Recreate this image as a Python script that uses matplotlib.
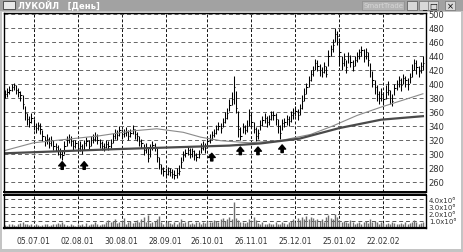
import numpy as np
import matplotlib
matplotlib.use('Agg')
import matplotlib.pyplot as plt
from matplotlib.patches import Rectangle

# ЛУКОЙЛ, дневные бары (индекс торгового дня)
closes = [385, 388, 392, 396, 398, 392, 388, 384, 372, 358,
          350, 345, 352, 340, 337, 342, 335, 326, 318, 322,
          315, 320, 312, 310, 305, 300, 298, 312, 320, 322,
          318, 312, 315, 308, 312, 306, 315, 318, 312, 320,
          322, 326, 320, 315, 312, 310, 314, 311, 316, 325,
          330, 327, 334, 328, 330, 332, 326, 330, 335, 328,
          325, 318, 315, 305, 310, 294, 308, 313, 310, 296,
          286, 278, 275, 272, 276, 274, 272, 270, 273, 276,
          288, 298, 302, 306, 300, 304, 298, 295, 300, 309,
          312, 308, 318, 322, 327, 330, 335, 340, 337, 345,
          352, 358, 370, 378, 395, 365, 335, 326, 338, 334,
          340, 356, 346, 336, 326, 330, 342, 348, 352, 345,
          350, 355, 356, 350, 340, 330, 344, 346, 350, 347,
          355, 358, 362, 355, 365, 375, 386, 395, 405, 414,
          420, 430, 426, 420, 417, 425, 414, 440, 450, 456,
          472, 468, 445, 430, 436, 424, 440, 432, 426, 434,
          440, 445, 448, 440, 446, 434, 420, 405, 396, 386,
          380, 385, 378, 388, 392, 380, 376, 394, 400, 405,
          398, 408, 405, 400, 410, 420, 430, 424, 418, 425,
          430]

highs = [392, 394, 397, 400, 402, 398, 394, 390, 384, 368,
         358, 354, 358, 350, 344, 346, 344, 334, 326, 328,
         324, 326, 320, 316, 313, 308, 304, 318, 326, 328,
         325, 320, 320, 316, 318, 314, 320, 324, 320, 326,
         328, 332, 328, 322, 318, 316, 320, 318, 322, 330,
         336, 334, 340, 336, 336, 338, 334, 336, 341, 336,
         332, 326, 322, 314, 316, 308, 314, 318, 316, 308,
         296, 286, 282, 280, 282, 280, 279, 277, 280, 284,
         296, 304, 307, 311, 308, 309, 305, 302, 306, 315,
         318, 316, 324, 328, 333, 336, 342, 346, 344, 352,
         360, 366, 378, 388, 412, 390, 362, 338, 344, 342,
         348, 364, 360, 346, 338, 336, 348, 354, 358, 354,
         356, 362, 362, 358, 350, 342, 350, 352, 356, 354,
         362, 366, 368, 364, 372, 384, 394, 402, 412, 420,
         426, 436, 434, 428, 424, 432, 426, 448, 456, 464,
         480, 476, 466, 440, 444, 434, 446, 442, 434, 440,
         446, 450, 454, 450, 452, 446, 430, 418, 406, 398,
         390, 394, 388, 398, 404, 392, 386, 400, 406, 412,
         408, 414, 412, 408, 416, 428, 436, 434, 426, 432,
         440]

lows = [380, 382, 386, 390, 392, 386, 382, 376, 364, 348,
        342, 338, 344, 334, 330, 334, 328, 318, 312, 314,
        308, 312, 306, 304, 298, 294, 292, 300, 312, 316,
        312, 306, 308, 302, 304, 300, 306, 312, 306, 312,
        316, 318, 314, 308, 306, 304, 308, 306, 308, 316,
        322, 320, 326, 322, 324, 326, 320, 324, 328, 322,
        318, 312, 308, 298, 302, 289, 296, 306, 304, 288,
        278, 272, 268, 266, 270, 268, 266, 264, 266, 270,
        280, 290, 296, 298, 294, 296, 292, 290, 294, 302,
        306, 302, 310, 316, 320, 324, 328, 334, 330, 338,
        344, 350, 362, 370, 372, 358, 324, 320, 330, 328,
        332, 340, 338, 330, 318, 322, 334, 340, 344, 338,
        342, 348, 348, 342, 330, 322, 334, 338, 342, 340,
        346, 350, 354, 348, 356, 364, 376, 386, 396, 404,
        412, 420, 418, 412, 410, 416, 410, 426, 440, 446,
        460, 456, 426, 420, 426, 416, 430, 424, 418, 426,
        432, 436, 440, 432, 436, 426, 410, 396, 386, 376,
        372, 376, 370, 378, 384, 372, 368, 384, 392, 396,
        390, 400, 396, 392, 402, 410, 420, 414, 410, 416,
        420]

# объём, млн
volumes = [0.4, 0.3, 0.5, 0.6, 0.4, 0.3, 0.5, 0.7, 0.9, 0.6,
           0.5, 0.4, 0.6, 0.3, 0.5, 0.4, 0.3, 0.4, 0.6, 0.5,
           0.3, 0.4, 0.5, 0.6, 0.7, 0.5, 0.9, 0.6, 0.4, 0.3,
           0.5, 0.4, 0.3, 0.6, 0.4, 0.5, 0.3, 0.7, 0.4, 0.5,
           0.6, 0.8, 0.5, 0.4, 0.6, 0.5, 0.9, 1.1, 0.8, 1.0,
           1.2, 0.7, 0.9, 1.0, 1.4, 0.6, 0.8, 1.0, 0.7, 0.9,
           1.1, 0.8, 1.3, 1.6, 0.9, 1.8, 0.7, 0.8, 1.0, 1.2,
           1.7, 0.9, 0.6, 0.8, 1.0, 0.7, 0.5, 0.9, 0.6, 0.8,
           1.3, 0.7, 0.8, 1.0, 0.6, 0.7, 0.5, 0.8, 0.9, 0.6,
           0.8, 0.7, 1.0, 0.9, 0.8, 1.1, 1.0, 0.9, 1.2, 1.4,
           1.0, 1.3, 1.6, 1.2, 3.6, 1.4, 1.1, 0.8, 0.9, 0.7,
           0.8, 1.2, 1.0, 1.5, 1.1, 0.7, 0.6, 0.8, 0.5, 0.6,
           0.7, 0.5, 0.6, 0.8, 0.6, 0.5, 0.9, 0.7, 0.6, 0.8,
           1.0, 1.2, 0.9, 1.4, 1.1, 1.5, 1.3, 1.7, 1.2, 1.6,
           1.4, 1.1, 1.3, 1.0, 1.2, 0.9, 1.5, 1.8, 1.4, 1.2,
           2.0, 1.6, 1.1, 0.9, 1.0, 0.8, 0.7, 1.1, 0.8, 0.6,
           0.7, 0.9, 0.6, 0.8, 1.0, 0.7, 1.2, 0.9, 1.0, 0.8,
           0.6, 0.8, 0.7, 0.5, 0.7, 0.6, 0.8, 0.7, 0.5, 0.6,
           0.7, 0.5, 0.8, 0.6, 0.7, 0.9, 1.1, 0.8, 0.6, 0.7,
           0.8]

# скользящие средние (узлы по индексу дня)
ma_fast_idx = [0, 13, 28, 43, 58, 69, 81, 89, 98, 111, 125, 139, 149, 160, 171, 190]
ma_fast_val = [305, 316, 321, 326, 333, 336, 331, 324, 319, 316, 319, 328, 340, 355, 367, 386]
ma_slow_idx = [0, 51, 102, 116, 134, 152, 171, 190]
ma_slow_val = [301, 307, 312, 315, 322, 337, 349, 354]

# стрелки-сигналы
arrow_idx = [26, 36, 94, 107, 115, 126]
arrow_price = [289, 289, 301, 310, 310, 313]

date_idx = [13, 33, 53, 73, 92, 112, 132, 152, 172]
date_labels = ['05.07.01', '02.08.01', '30.08.01', '28.09.01', '26.10.01',
               '26.11.01', '25.12.01', '25.01.02', '22.02.02']
price_ticks = list(range(260, 501, 20))
vol_ticks = [1, 2, 3, 4]
vol_labels = ['1.0x10⁶', '2.0x10⁶', '3.0x10⁶', '4.0x10⁶']

W, H = 463, 253
fig = plt.figure(figsize=(W / 100, H / 100), dpi=100)
fig.patch.set_facecolor('#c4c4c4')


def px_rect(x, y, w, h, z=5, **kw):
    r = Rectangle((x / W, 1 - (y + h) / H), w / W, h / H, transform=fig.transFigure,
                  zorder=z, **kw)
    fig.add_artist(r)
    return r


def px_text(x, y, s, **kw):
    fig.text(x / W, 1 - y / H, s, zorder=6, **kw)


# окно
px_rect(2, 13, 459, 237, z=-10, facecolor='white', edgecolor='none')
px_rect(4, 193, 422, 3, z=-5, facecolor='#8a8a8a', edgecolor='none')
px_rect(0, 0, W, 12, facecolor='#a2a2a2', edgecolor='none')
px_rect(3, 2, 12, 8, facecolor='#e8e8e8', edgecolor='#404040', lw=0.6)
px_text(18, 6.5, 'ЛУКОЙЛ   [День]', color='white', fontsize=6, fontweight='bold', va='center')
px_rect(362, 2, 42, 9, facecolor='#b4b4b4', edgecolor='#8c8c8c', lw=0.5)
px_text(383, 6.5, 'SmartTrade', color='#d6d6d6', fontsize=5, ha='center', va='center')
px_rect(407, 2, 10, 9, facecolor='#d8d8d8', edgecolor='#505050', lw=0.5)
for bx, glyph in [(419, '_'), (428, '□'), (445, '×')]:
    px_rect(bx, 2, 10, 9, facecolor='#d8d8d8', edgecolor='#707070', lw=0.5)
    px_text(bx + 5, 6.5, glyph, color='black', fontsize=6, ha='center', va='center')

x = np.arange(len(closes))

# ценовая панель
ax = fig.add_axes([4 / W, 1 - 193 / H, 422 / W, 179 / H])
ax.set_facecolor('white')
ax.vlines(x, lows, highs, color='black', lw=0.75)
ax.hlines(closes, x, x + 0.6, color='black', lw=0.75)
ax.plot(ma_fast_idx, ma_fast_val, color='#8a8a8a', lw=0.8)
ax.plot(ma_slow_idx, ma_slow_val, color='#4a4a4a', lw=1.6)
for i, p in zip(arrow_idx, arrow_price):
    ax.annotate('', xy=(i, p), xytext=(0, -5.5), textcoords='offset points',
                arrowprops=dict(facecolor='black', edgecolor='black', width=1.6,
                                headwidth=5, headlength=3))
ax.set_xlim(-0.45, 191.4)
ax.set_ylim(245.7, 501.4)
ax.set_yticks(price_ticks)
ax.yaxis.tick_right()
ax.tick_params(axis='y', length=0, pad=2, labelsize=6, labelcolor='#333333')
ax.set_xticks(date_idx)
ax.tick_params(axis='x', length=0, labelbottom=False)
ax.grid(axis='y', color='#666666', lw=0.7, linestyle=(0, (4, 3)))
ax.grid(axis='x', color='#111111', lw=0.7, linestyle=(0, (3, 2)))
for s in ax.spines.values():
    s.set_linewidth(1.0)
ax.spines['bottom'].set_linewidth(1.4)

# объём
axv = fig.add_axes([4 / W, 1 - 229 / H, 422 / W, 33 / H])
axv.vlines(x, 0, volumes, color='#6e6e6e', lw=1.0)
axv.set_xlim(-0.45, 191.4)
axv.set_ylim(0, 4.63)
axv.set_yticks(vol_ticks)
axv.set_yticklabels(vol_labels)
axv.yaxis.tick_right()
axv.tick_params(axis='y', length=0, pad=2, labelsize=5, labelcolor='#333333')
axv.set_xticks(date_idx)
axv.set_xticklabels(date_labels)
axv.tick_params(axis='x', length=0, pad=6, labelsize=5.5, labelcolor='#333333')
axv.grid(axis='y', color='#555555', lw=0.7, linestyle=(0, (4, 3)))
axv.grid(axis='x', color='#111111', lw=0.7, linestyle=(0, (3, 2)))
for s in axv.spines.values():
    s.set_linewidth(1.0)
axv.spines['top'].set_linewidth(1.4)
axv.spines['bottom'].set_linewidth(1.6)

fig.savefig('out.png', dpi=100, facecolor=fig.get_facecolor())
